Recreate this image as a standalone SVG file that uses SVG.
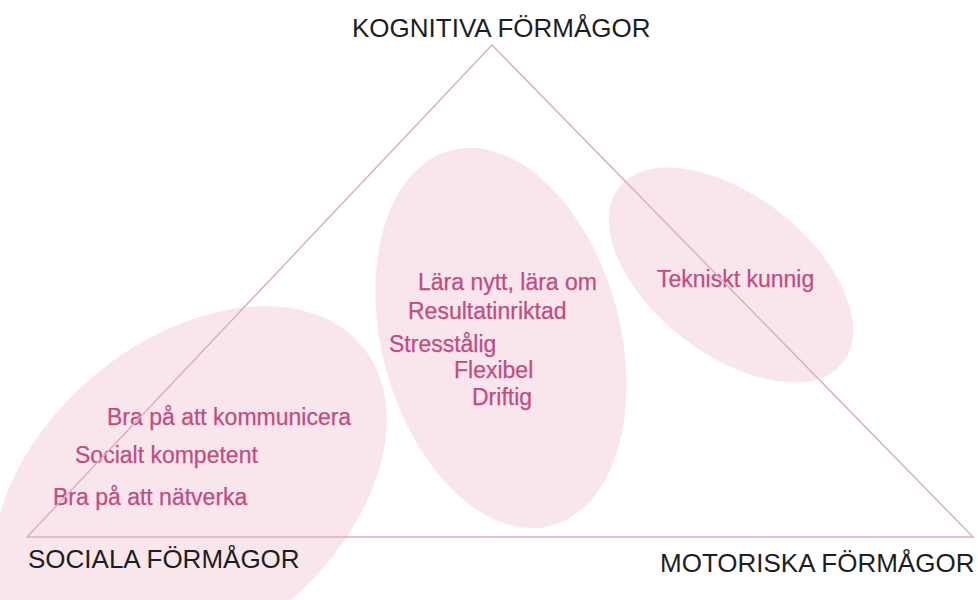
<svg xmlns="http://www.w3.org/2000/svg" width="978" height="600" viewBox="0 0 978 600">
<style>
.blob{fill:#f9e6ed;stroke:#ffffff;stroke-width:1.5}
.edge{fill:none;stroke:#dcb0c0;stroke-width:1.5}
.corner{font-family:"Liberation Sans",Arial,sans-serif;font-size:26px;fill:#1e1e1e}
.trait{font-family:"Liberation Sans",Arial,sans-serif;font-size:23px;fill:#c24c82;stroke:#c24c82;stroke-width:0.25}
</style>
<rect width="978" height="600" fill="#ffffff"/>
<g id="social-cluster">
<ellipse class="blob" cx="190" cy="490" rx="225" ry="150" transform="rotate(-40 190 490)"/>
<text class="trait" x="107" y="425">Bra på att kommunicera</text>
<text class="trait" x="75" y="463">Socialt kompetent</text>
<text class="trait" x="53" y="505">Bra på att nätverka</text>
</g>
<g id="cognitive-cluster">
<ellipse class="blob" cx="501" cy="338" rx="120" ry="195" transform="rotate(-15 501 338)"/>
<text class="trait" x="418" y="290">Lära nytt, lära om</text>
<text class="trait" x="408" y="319">Resultatinriktad</text>
<text class="trait" x="389" y="352">Stresstålig</text>
<text class="trait" x="454" y="378">Flexibel</text>
<text class="trait" x="472" y="405">Driftig</text>
</g>
<g id="motor-cluster">
<ellipse class="blob" cx="731" cy="275" rx="143" ry="80" transform="rotate(38 731 275)"/>
<text class="trait" x="657" y="287">Tekniskt kunnig</text>
</g>
<g id="connectors">
<polygon class="edge" points="492,45 27,537 973,537"/>
</g>
<g id="kognitiva"><text class="corner" x="352" y="37">KOGNITIVA FÖRMÅGOR</text></g>
<g id="sociala"><text class="corner" x="28" y="568">SOCIALA FÖRMÅGOR</text></g>
<g id="motoriska"><text class="corner" x="660" y="572">MOTORISKA FÖRMÅGOR</text></g>
</svg>
